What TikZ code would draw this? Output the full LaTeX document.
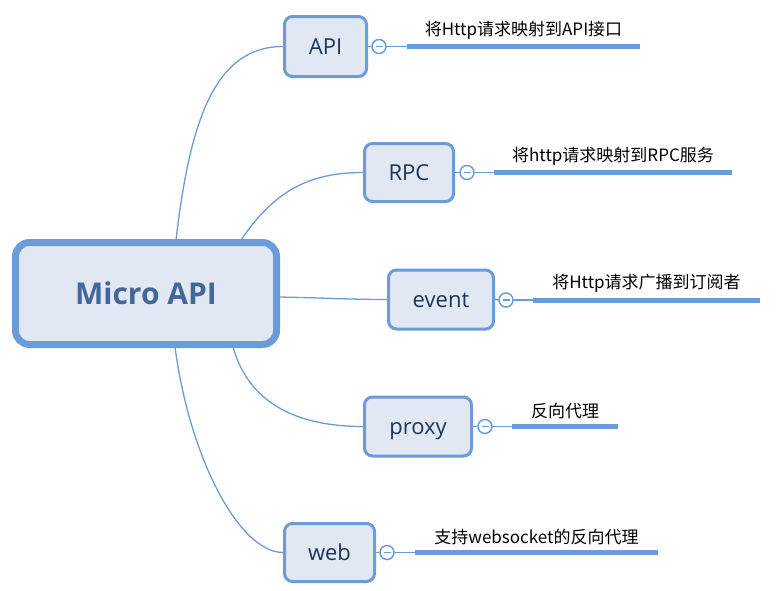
\documentclass[tikz,border=0pt]{standalone}
\usepackage{fontspec}
\setmainfont{Open Sans}
\newfontfamily\cjk{Noto Sans CJK SC}
\definecolor{lineblue}{HTML}{6C9BDA}
\definecolor{boxfill}{HTML}{E1E8F4}
\definecolor{boxtext}{HTML}{1E3556}
\definecolor{maintext}{HTML}{44679A}
\tikzset{
  branchbox/.style={draw=lineblue, fill=boxfill, line width=3pt, rounded corners=8pt,
    text=boxtext, font=\fontsize{22}{26}\selectfont, inner sep=0pt,
    text height=15.7pt, text depth=0pt},
  mainbox/.style={draw=lineblue, fill=boxfill, line width=7pt, rounded corners=14pt,
    text=maintext, font=\fontsize{30}{36}\selectfont\bfseries, inner sep=0pt,
    minimum width=261pt, minimum height=102pt},
  link/.style={draw=lineblue, line width=1.3pt},
  foldcircle/.style={circle, draw=lineblue, fill=white, line width=1.5pt, minimum size=14pt, inner sep=0pt},
  minusbar/.style={draw=lineblue, line width=1.2pt},
  topicline/.style={draw=lineblue, line width=5pt},
  desc/.style={font=\cjk\fontsize{17}{20}\selectfont, text=black, inner sep=0pt}
}
\begin{document}
\begin{tikzpicture}[x=1pt,y=-1pt]
\useasboundingbox (0,0) rectangle (776,590);

% nodes
\node[mainbox] (c) at (146,293.5) {Micro API};
\node[branchbox, minimum width=82pt, minimum height=60pt] (api) at (325.5,46.5) {API};
\node[branchbox, minimum width=89pt, minimum height=58pt] (rpc) at (409,172.5) {RPC};
\node[branchbox, minimum width=105pt, minimum height=59pt] (event) at (441,299.5) {event};
\node[branchbox, minimum width=107pt, minimum height=59pt] (proxy) at (418,426.5) {proxy};
\node[branchbox, minimum width=90pt, minimum height=58pt] (web) at (329.5,552.5) {web};

% connector start points on the central topic
\coordinate (sapi) at (176,240);
\coordinate (srpc) at (241,240);
\coordinate (sevent) at (279,297);
\coordinate (sproxy) at (233,347);
\coordinate (sweb) at (175,347);

\draw[link] (sapi) .. controls (190,120) and (215,46.5) .. (api.west);
\draw[link] (srpc) .. controls (275,190) and (310,172.5) .. (rpc.west);
\draw[link] (sevent) .. controls (330,298) and (350,299.5) .. (event.west);
\draw[link] (sproxy) .. controls (245,390) and (280,426.5) .. (proxy.west);
\draw[link] (sweb) .. controls (190,460) and (240,552.5) .. (web.west);

% fold circles
\node[foldcircle] (fapi) at (379,46.5) {};
\node[foldcircle] (frpc) at (467,172.5) {};
\node[foldcircle] (fevent) at (506,300) {};
\node[foldcircle] (fproxy) at (485,426.5) {};
\node[foldcircle] (fweb) at (387,552.5) {};

\foreach \f in {fapi,frpc,fevent,fproxy,fweb}{
  \draw[minusbar] ([xshift=-3.5pt]\f.center) -- ([xshift=3.5pt]\f.center);
}

% topic lines
\coordinate (lapi1) at (407,46.5);   \coordinate (lapi2) at (640,46.5);
\coordinate (lrpc1) at (494,172.5);  \coordinate (lrpc2) at (732,172.5);
\coordinate (levent1) at (533,300);  \coordinate (levent2) at (760,300);
\coordinate (lproxy1) at (512,426.5);\coordinate (lproxy2) at (618,426.5);
\coordinate (lweb1) at (415,552.5);  \coordinate (lweb2) at (658,552.5);

\draw[link] (api.east) -- (fapi.west);
\draw[link] (fapi.east) -- (lapi1);
\draw[link] (rpc.east) -- (frpc.west);
\draw[link] (frpc.east) -- (lrpc1);
\draw[link] (event.east) -- (fevent.west);
\draw[link] (fevent.east) -- (levent1);
\draw[link] (proxy.east) -- (fproxy.west);
\draw[link] (fproxy.east) -- (lproxy1);
\draw[link] (web.east) -- (fweb.west);
\draw[link] (fweb.east) -- (lweb1);

\draw[topicline] (lapi1) -- (lapi2) node[desc, midway, above=5pt] (dapi) {将Http请求映射到API接口};
\draw[topicline] (lrpc1) -- (lrpc2) node[desc, midway, above=5pt] (drpc) {将http请求映射到RPC服务};
\draw[topicline] (levent1) -- (levent2) node[desc, midway, above=5pt] (devent) {将Http请求广播到订阅者};
\draw[topicline] (lproxy1) -- (lproxy2) node[desc, midway, above=5pt] (dproxy) {反向代理};
\draw[topicline] (lweb1) -- (lweb2) node[desc, midway, above=5pt] (dweb) {支持websocket的反向代理};
\end{tikzpicture}
\end{document}
